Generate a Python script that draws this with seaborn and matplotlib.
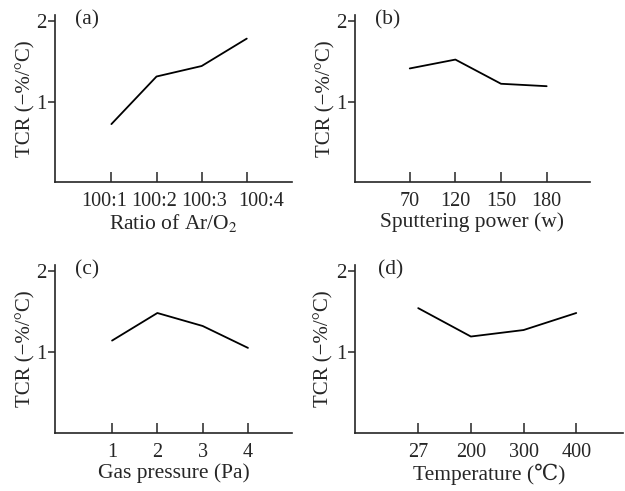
import pandas as pd
import matplotlib
matplotlib.use("Agg")
import matplotlib.pyplot as plt
import matplotlib.transforms as mtransforms
import seaborn as sns

# values
ratio_labels = ["100:1", "100:2", "100:3", "100:4"]
ratio_tcr = [0.72, 1.31, 1.44, 1.78]

power_labels = ["70", "120", "150", "180"]
power_tcr = [1.41, 1.52, 1.22, 1.19]

pressure_labels = ["1", "2", "3", "4"]
pressure_tcr = [1.14, 1.48, 1.32, 1.05]

temp_labels = ["27", "200", "300", "400"]
temp_tcr = [1.54, 1.19, 1.27, 1.48]

panels = [
    ("(a)", ratio_labels, ratio_tcr, "Ratio of Ar/O$_\\mathrm{2}$"),
    ("(b)", power_labels, power_tcr, "Sputtering power (w)"),
    ("(c)", pressure_labels, pressure_tcr, "Gas pressure (Pa)"),
    ("(d)", temp_labels, temp_tcr, "Temperature (\u2103)"),
]

sns.set_style("ticks")
plt.rcParams["font.family"] = ["Liberation Serif", "DejaVu Serif", "DejaVu Sans", "Noto Sans CJK SC"]
plt.rcParams["mathtext.fontset"] = "stix"

fig = plt.figure(figsize=(6.25, 4.91), dpi=100)

# axes boxes [left, bottom, width, height] and x limits per panel
boxes = [
    [0.088, 0.629, 0.379, 0.340],
    [0.568, 0.629, 0.376, 0.340],
    [0.088, 0.118, 0.379, 0.342],
    [0.568, 0.118, 0.429, 0.342],
]
xlims = [(-1.25, 4.0), (-1.2, 3.95), (-1.26, 3.97), (-1.2, 3.89)]
# in panel (a) the tick labels sit spread out from their ticks (pixels)
label_shift = {0: [-7, -2, 2, 14]}

for i, ((tag, labels, vals, xlabel), box, xl) in enumerate(zip(panels, boxes, xlims)):
    ax = fig.add_axes(box)
    df = pd.DataFrame({"x": range(len(labels)), "tcr": vals})
    sns.lineplot(data=df, x="x", y="tcr", ax=ax, color="black", linewidth=1.3)
    ax.set_xticks(range(len(labels)))
    ax.set_xticklabels(labels)
    ax.set_xlim(*xl)
    ax.set_ylim(0, 2.07)
    ax.set_yticks([1, 2])
    ax.set_yticklabels(["1", "2"])
    ax.tick_params(axis="x", direction="in", length=7, width=1.1, labelsize=14.5, pad=7)
    ax.tick_params(axis="y", direction="out", length=5, width=1.1, labelsize=15, pad=1)
    for s in ["top", "right"]:
        ax.spines[s].set_visible(False)
    for s in ["left", "bottom"]:
        ax.spines[s].set_linewidth(1.2)
    ax.set_xlabel(xlabel, fontsize=15.5, labelpad=1)
    ax.set_ylabel("TCR (\u2212%/\u00b0C)", fontsize=15)
    ax.yaxis.set_label_coords(-0.082, 0.5)
    ax.text(0.085, 0.97, tag, transform=ax.transAxes, fontsize=15.5, va="center", ha="left")
    if i in label_shift:
        for lab, dx in zip(ax.get_xticklabels(), label_shift[i]):
            off = mtransforms.ScaledTranslation(dx / 100, 0, fig.dpi_scale_trans)
            lab.set_transform(lab.get_transform() + off)

fig.savefig("out.png", dpi=100)
